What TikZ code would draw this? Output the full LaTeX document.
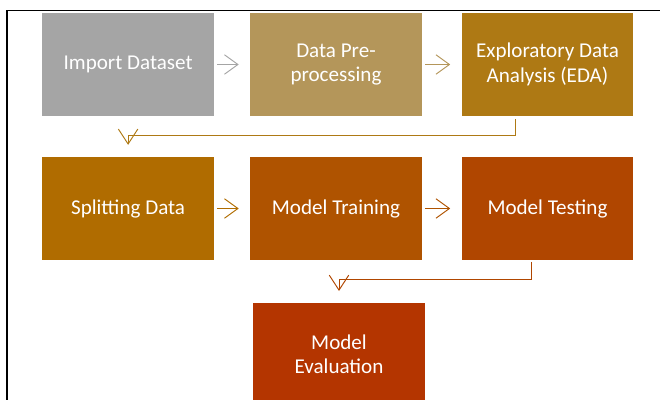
\documentclass[tikz,border=0pt]{standalone}
\usepackage{fontspec}
\setmainfont{Carlito}
\usetikzlibrary{positioning,arrows.meta}
\definecolor{impgray}{HTML}{A5A5A5}
\definecolor{pretan}{HTML}{B4965A}
\definecolor{edagold}{HTML}{AE7914}
\definecolor{splbrown}{HTML}{B06C00}
\definecolor{trnbrown}{HTML}{AF5300}
\definecolor{tstbrown}{HTML}{B04600}
\definecolor{evlred}{HTML}{B43500}
\tikzstyle{stepbox}=[rectangle, inner sep=0pt, minimum width=5.73cm, minimum height=3.43cm,
        text=white, align=center, font=\fontsize{20}{23}\selectfont]
\tikzstyle{flow}=[line width=0.9pt, -{Straight Barb[length=0.45cm,width=0.65cm]},
        shorten <=0.1cm, shorten >=0.37cm]
\tikzstyle{elbow}=[line width=0.9pt, -{Straight Barb[length=0.5cm,width=0.65cm]}]

\begin{document}
\begin{tikzpicture}
\useasboundingbox (0,0) rectangle (22,-13.333);
\clip (0,0) rectangle (22,-13.333);
% frame
\draw[line width=1.3pt] (22,-0.35) -- (0.23,-0.35) -- (0.23,-13.4);
% first row
\node[stepbox,fill=impgray] (imp) at (4.27,-2.15) {Import Dataset};
\node[stepbox,fill=pretan] (pre) at (11.2,-2.15) {Data Pre-\\processing};
\node[stepbox,fill=edagold] (eda) at (18.25,-2.15) {Exploratory Data\\Analysis (EDA)};
% second row
\node[stepbox,fill=splbrown] (spl) at (4.27,-6.95) {Splitting Data};
\node[stepbox,fill=trnbrown] (trn) at (11.2,-6.95) {Model Training};
\node[stepbox,fill=tstbrown] (tst) at (18.25,-6.95) {Model Testing};
% last one
\node[stepbox,fill=evlred] (evl) at (11.3,-11.82) {Model\\Evaluation};
\draw[flow,impgray] (imp) -- (pre);
\draw[flow,pretan] (pre) -- (eda);
\draw[flow,splbrown] (spl) -- (trn);
\draw[flow,trnbrown] (trn) -- (tst);
\coordinate (e1) at (17.17,-3.97);
\coordinate (e2) at (4.27,-4.83);
\draw[elbow,edagold] (e1) -- ++(0,-0.53) -| (e2);
\coordinate (t1) at (17.7,-8.73);
\coordinate (t2) at (11.3,-9.7);
\draw[elbow,tstbrown] (t1) -- ++(0,-0.57) -| (t2);
\end{tikzpicture}
\end{document}
